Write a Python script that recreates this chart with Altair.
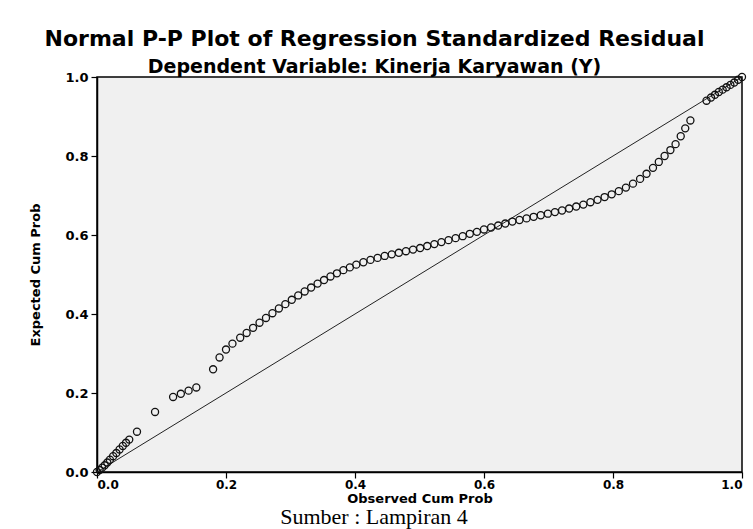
import altair as alt
import pandas as pd

# Observed cumulative probability (x) and expected cumulative probability (y)
obs = [0.000, 0.004, 0.008, 0.012, 0.016, 0.020, 0.025, 0.030, 0.035, 0.040, 0.045, 0.050,
       0.062, 0.090, 0.118, 0.130, 0.142, 0.154,
       0.180, 0.190, 0.200, 0.210, 0.222, 0.232, 0.242, 0.252, 0.262, 0.272, 0.282, 0.292,
       0.302, 0.312, 0.322, 0.332, 0.342, 0.352, 0.362, 0.372, 0.382, 0.392, 0.402, 0.413,
       0.424, 0.435, 0.446, 0.457, 0.468, 0.479, 0.490, 0.501, 0.512, 0.523, 0.534, 0.545,
       0.556, 0.567, 0.578, 0.589, 0.600, 0.611, 0.622, 0.633, 0.644,
       0.655, 0.666, 0.677, 0.688, 0.699, 0.710, 0.721, 0.732, 0.743, 0.754, 0.765, 0.776,
       0.787, 0.798, 0.809, 0.820, 0.831, 0.842, 0.852, 0.862, 0.871, 0.880, 0.889, 0.897,
       0.905, 0.912, 0.920,
       0.945, 0.952, 0.958, 0.964, 0.970, 0.976, 0.982, 0.988, 0.994, 1.000]
exp = [0.000, 0.005, 0.011, 0.017, 0.024, 0.031, 0.040, 0.048, 0.057, 0.066, 0.074, 0.082,
       0.102, 0.152, 0.190, 0.198, 0.206, 0.214,
       0.260, 0.290, 0.310, 0.325, 0.340, 0.352, 0.365, 0.378, 0.390, 0.402, 0.414, 0.425,
       0.436, 0.447, 0.457, 0.467, 0.477, 0.486, 0.495, 0.503, 0.511, 0.518, 0.525, 0.531,
       0.537, 0.542, 0.547, 0.551, 0.555, 0.559, 0.563, 0.567, 0.572, 0.577, 0.582, 0.587,
       0.592, 0.597, 0.603, 0.608, 0.614, 0.619, 0.624, 0.629, 0.634,
       0.638, 0.642, 0.646, 0.650, 0.654, 0.658, 0.662, 0.667, 0.672, 0.677, 0.683, 0.689,
       0.696, 0.703, 0.711, 0.720, 0.730, 0.742, 0.755, 0.770, 0.785, 0.800, 0.815, 0.830,
       0.850, 0.870, 0.890,
       0.940, 0.948, 0.955, 0.962, 0.968, 0.974, 0.980, 0.986, 0.993, 1.000]

diag_x = [0.0, 1.0]
diag_y = [0.0, 1.0]
tick_values = [0.0, 0.2, 0.4, 0.6, 0.8, 1.0]

title_text = "Normal P-P Plot of Regression Standardized Residual"
subtitle_text = "Dependent Variable: Kinerja Karyawan (Y)"
x_title = "Observed Cum Prob"
y_title = "Expected Cum Prob"
source_note = ["Sumber : Lampiran 4"]

points = pd.DataFrame({"obs": obs, "exp": exp})
diag = pd.DataFrame({"obs": diag_x, "exp": diag_y})
note = pd.DataFrame({"t": source_note})

xs = alt.Scale(domain=[0, 1], nice=False, zero=False)
ys = alt.Scale(domain=[0, 1], nice=False, zero=False)

x_enc = alt.X("obs:Q", scale=xs,
              axis=alt.Axis(values=tick_values, format=".1f", title=x_title,
                            titlePadding=2, titleFontSize=13, labelPadding=1,
                            labelFontSize=12))
y_enc = alt.Y("exp:Q", scale=ys,
              axis=alt.Axis(values=tick_values, format=".1f", title=y_title,
                            titlePadding=22, titleFontSize=13, labelPadding=3,
                            labelFontSize=13))

line = alt.Chart(diag).mark_line(color="#222222", strokeWidth=1).encode(x=x_enc, y=y_enc)

pts = alt.Chart(points).mark_point(
    shape="circle", filled=False, color="#111111", size=50, strokeWidth=1.3, opacity=1
).encode(x=x_enc, y=y_enc)

txt = alt.Chart(note).mark_text(
    font="Liberation Serif", fontSize=22, align="center", baseline="alphabetic", color="black"
).encode(text="t:N", x=alt.value(277), y=alt.value(447))

chart = alt.layer(line, pts, txt).properties(
    width=645, height=395,
    title=alt.TitleParams(
        text=title_text, subtitle=subtitle_text, anchor="middle", dx=-45,
        font="DejaVu Sans", fontSize=22, fontWeight="bold", color="black",
        subtitleFont="DejaVu Sans", subtitleFontSize=19, subtitleFontWeight="bold",
        subtitleColor="black", subtitlePadding=7, offset=-7
    ),
    autosize="none",
    padding={"left": 97, "top": 77, "right": 11, "bottom": 57},
    background="white",
).configure_view(
    fill="#f0f0f0", stroke="black", strokeWidth=1.5
).configure_axis(
    grid=False, domainColor="black", domainWidth=1.5, tickColor="black", tickSize=6,
    tickWidth=1.2, labelFont="DejaVu Sans", labelFontWeight="bold",
    labelColor="black", titleFont="DejaVu Sans", titleFontWeight="bold",
    titleColor="black"
)

chart.save("out.html", embed_options={"renderer": "svg", "actions": False})
